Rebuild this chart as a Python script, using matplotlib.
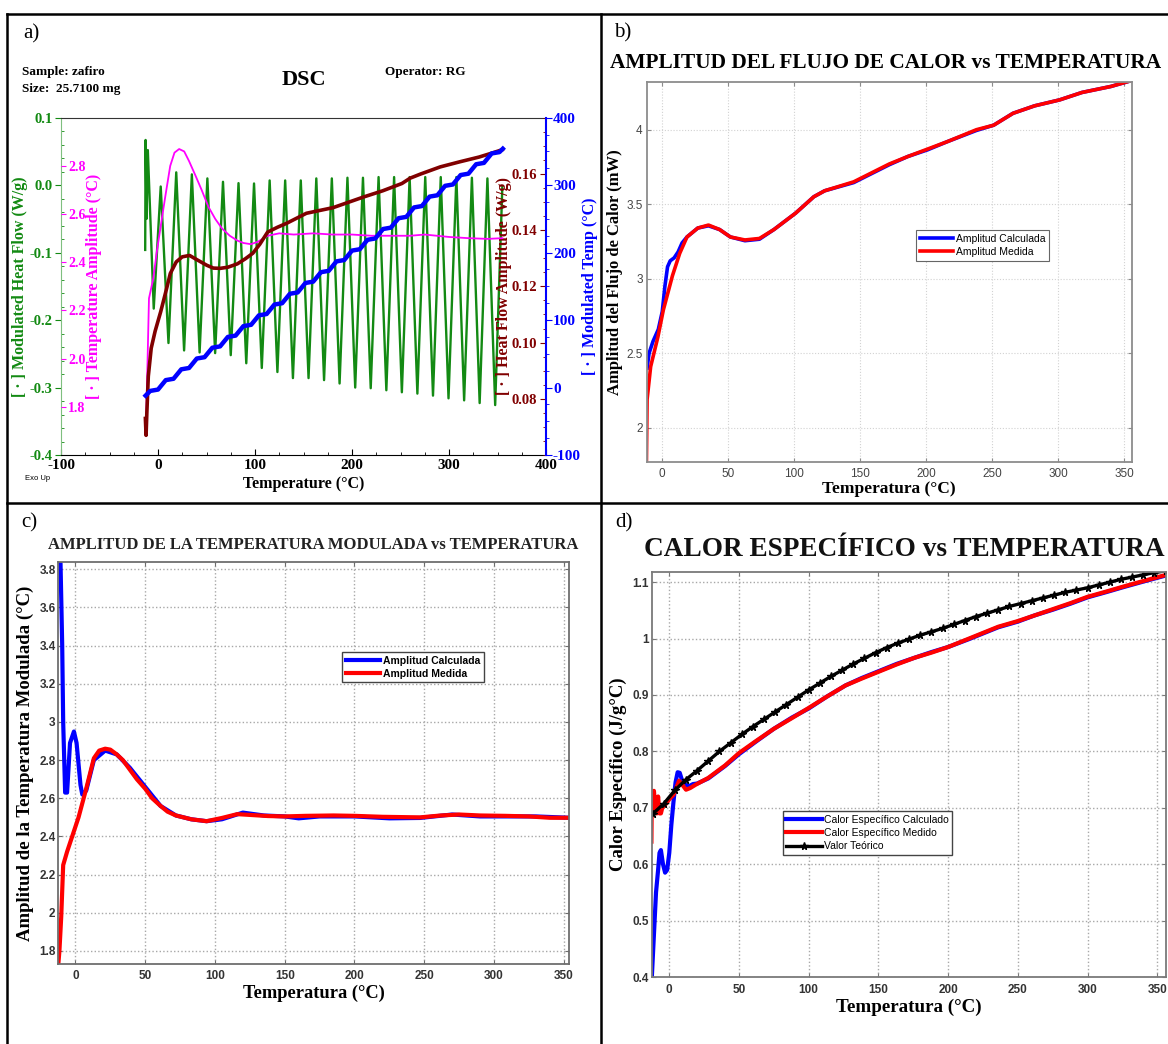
import matplotlib
matplotlib.use("Agg")
import matplotlib.pyplot as plt
from matplotlib.lines import Line2D
from matplotlib.ticker import MultipleLocator, FuncFormatter

plt.rcParams['axes.unicode_minus'] = False
SERIF = 'Liberation Serif'
SANS = 'Liberation Sans'

# ---------------- Panel a data ----------------
green_x = [-13.2, -12.8, -11.8, -10.5, -4.4, 2.8, 10.8, 18.8, 26.9, 34.9, 42.9, 50.9, 58.9, 67.0, 75.0,
           83.0, 91.0, 99.0, 107.0, 115.1, 123.1, 131.1, 139.1, 147.2, 155.2, 163.2, 171.2, 179.2,
           187.2, 195.3, 203.3, 211.3, 219.3, 227.4, 235.4, 243.4, 251.4, 259.4, 267.4, 275.5,
           283.5, 291.5, 299.5, 307.6, 315.6, 323.6, 331.6, 339.6, 347.6, 355.0]
green_y = [-0.096, 0.067, -0.05, 0.052, -0.183, -0.002, -0.234, 0.019, -0.245, 0.016, -0.248, 0.010,
           -0.249, 0.005, -0.252, 0.003, -0.264, 0.0025, -0.271, 0.007, -0.277, 0.007, -0.286, 0.007,
           -0.286, 0.010, -0.289, 0.010, -0.294, 0.011, -0.300, 0.011, -0.301, 0.012, -0.304, 0.012,
           -0.307, 0.012, -0.309, 0.012, -0.312, 0.012, -0.316, 0.012, -0.319, 0.011, -0.323, 0.010,
           -0.326, -0.002]

mag_x = [-12.5, -11.0, -9.3, -5.0, -1.0, 2.8, 7.0, 12.6, 17.0, 21.8, 27.0, 32.0, 38.6, 45.0, 52.0,
         59.0, 66.0, 74.0, 81.8, 88.0, 95.7, 103.0, 113.0, 125.0, 140.0, 160.0, 180.0, 200.0, 220.0,
         240.0, 260.0, 275.0, 300.0, 320.0, 340.0, 355.0]
mag_y = [1.70, 1.95, 2.25, 2.33, 2.45, 2.55, 2.66, 2.80, 2.855, 2.87, 2.86, 2.82, 2.76, 2.70, 2.63,
         2.58, 2.54, 2.51, 2.49, 2.48, 2.475, 2.485, 2.51, 2.52, 2.515, 2.52, 2.515, 2.515, 2.51,
         2.51, 2.51, 2.515, 2.505, 2.50, 2.497, 2.50]

brown_x = [-13.0, -12.3, -11.5, -10.0, -7.0, -3.0, 2.8, 8.0, 12.7, 18.8, 25.0, 32.5, 40.0, 50.3, 57.0,
           64.0, 72.0, 81.8, 90.0, 97.8, 105.0, 113.0, 123.0, 133.0, 153.0, 180.5, 212.0, 231.7,
           251.5, 260.0, 271.0, 291.0, 311.0, 331.0, 345.0, 354.8]
brown_y = [0.073, 0.067, 0.075, 0.088, 0.098, 0.104, 0.111, 0.118, 0.1246, 0.1287, 0.1305, 0.131,
           0.1295, 0.1275, 0.1265, 0.1264, 0.1268, 0.128, 0.1298, 0.1318, 0.135, 0.1393, 0.141,
           0.1425, 0.146, 0.148, 0.1518, 0.154, 0.1566, 0.1585, 0.160, 0.1625, 0.1643, 0.166,
           0.1675, 0.1686]

blue_x = [-12.8, -8, 0, 8, 16, 24, 32, 40, 48, 56, 64, 72, 80, 88, 96, 104, 112, 120, 128, 136, 144,
          152, 160, 168, 176, 184, 192, 200, 208, 216, 224, 232, 240, 248, 256, 264, 272, 280, 288,
          296, 304, 312, 320, 328, 336, 344, 352, 355.5]
blue_y = [-12, -5, -3, 11, 13, 27, 29, 43, 45, 59, 61, 75, 77, 91, 93, 107, 109, 123, 125, 139, 141,
          155, 157, 171, 173, 187, 189, 203, 205, 219, 221, 235, 237, 251, 253, 267, 269, 283, 285,
          299, 301, 315, 317, 331, 333, 347, 349, 354]

# ---------------- Panel b data ----------------
b_calc_x = [-11.5, -10, -7, -3, 0, 2, 4, 6, 9, 12, 15, 18.7, 26.9, 35, 43.4, 51.6, 62.6, 73.6, 84.6,
            101, 114.8, 123, 145, 172, 186, 201, 216, 238, 251, 265.7, 282, 301, 318, 339.8, 355.6]
b_calc_y = [2.40, 2.50, 2.58, 2.66, 2.78, 2.95, 3.08, 3.12, 3.14, 3.18, 3.24, 3.28, 3.34, 3.355,
            3.33, 3.28, 3.255, 3.265, 3.33, 3.44, 3.55, 3.59, 3.645, 3.765, 3.82, 3.865, 3.92, 3.995,
            4.03, 4.11, 4.16, 4.2, 4.25, 4.29, 4.33]
b_med_x = [-12, -11.5, -8.8, -3.3, 0.8, 7.7, 13.2, 18.7, 26.9, 35, 43.4, 51.6, 62.6, 73.6, 84.6, 101,
           114.8, 123, 145, 172, 186, 201, 216, 238, 251, 265.7, 282, 301, 318, 339.8, 355.6]
b_med_y = [1.77, 2.19, 2.41, 2.61, 2.79, 3.02, 3.17, 3.28, 3.34, 3.36, 3.33, 3.28, 3.26, 3.27, 3.33,
           3.44, 3.55, 3.59, 3.65, 3.77, 3.82, 3.87, 3.92, 4.0, 4.03, 4.11, 4.16, 4.2, 4.25, 4.29, 4.33]

# ---------------- Panel c data ----------------
c_calc_x = [-12, -10.7, -9.5, -8.8, -7.4, -6.0, -3.9, -1.1, 0.8, 3.6, 4.9, 7.7, 13.2, 21.3, 29.6, 39,
            50, 61, 72, 83, 94, 105, 120, 135, 150, 160, 175, 200, 225, 247, 270, 290, 310, 330, 354]
c_calc_y = [3.9, 3.83, 3.4, 3.0, 2.63, 2.63, 2.89, 2.95, 2.89, 2.67, 2.62, 2.64, 2.80, 2.85, 2.83,
            2.76, 2.66, 2.56, 2.51, 2.49, 2.48, 2.49, 2.525, 2.51, 2.505, 2.495, 2.505, 2.505, 2.495,
            2.497, 2.515, 2.505, 2.505, 2.505, 2.498]
c_med_x = [-12.3, -11.5, -10.2, -8.8, -6, -1.9, 2.2, 7.7, 13.2, 17, 21.3, 25, 29.6, 34, 39, 44, 50, 55,
           61, 66, 72, 83, 94, 105, 116, 127, 138, 150, 165, 185, 200, 220, 247, 262, 275, 290, 308,
           325, 340, 354]
c_med_y = [1.73, 1.80, 1.98, 2.25, 2.32, 2.41, 2.50, 2.65, 2.81, 2.85, 2.86, 2.855, 2.83, 2.80, 2.75,
           2.70, 2.65, 2.60, 2.56, 2.53, 2.51, 2.49, 2.48, 2.497, 2.517, 2.512, 2.507, 2.505, 2.508,
           2.51, 2.508, 2.503, 2.50, 2.51, 2.515, 2.51, 2.508, 2.505, 2.498, 2.498]

# ---------------- Panel d data ----------------
d_calc_x = [-12.5, -11.5, -10.5, -9.5, -8, -7, -6, -4.5, -3, -1.5, 0, 1.5, 3, 4.5, 6, 7.5, 9, 11, 14,
            17, 20, 28, 40, 50, 62, 75, 88, 100, 113, 126.5, 138, 150, 163, 176, 188, 200, 215, 236,
            250, 262, 275, 288, 300, 313, 325.5, 340, 355]
d_calc_y = [0.40, 0.45, 0.50, 0.55, 0.59, 0.62, 0.625, 0.60, 0.585, 0.59, 0.62, 0.67, 0.71, 0.745,
            0.763, 0.762, 0.75, 0.742, 0.738, 0.742, 0.743, 0.752, 0.774, 0.795, 0.817, 0.84, 0.86,
            0.876, 0.897, 0.917, 0.93, 0.942, 0.955, 0.966, 0.976, 0.985, 0.999, 1.02, 1.03, 1.041,
            1.051, 1.062, 1.073, 1.082, 1.091, 1.101, 1.111]
d_med_x = [-12.8, -12.5, -12, -11, -10, -9, -8, -7, -6, -5, -3, 0, 3, 5, 7, 9, 12, 15, 19, 28, 40, 50,
           62, 75, 88, 100, 113, 126.5, 138, 150, 163, 176, 188, 200, 215, 236, 250, 262, 275, 288,
           300, 313, 325.5, 340, 355]
d_med_y = [0.64, 0.73, 0.72, 0.73, 0.70, 0.69, 0.72, 0.69, 0.69, 0.70, 0.705, 0.715, 0.723, 0.735,
           0.748, 0.742, 0.732, 0.735, 0.741, 0.753, 0.775, 0.797, 0.818, 0.84, 0.859, 0.877, 0.897,
           0.917, 0.929, 0.941, 0.954, 0.966, 0.975, 0.985, 1.0, 1.021, 1.031, 1.041, 1.052, 1.063,
           1.074, 1.083, 1.092, 1.102, 1.112]
d_teo_x = [-12, -4, 4, 12, 20, 28, 36, 44, 52, 60, 68, 76, 84, 92, 100, 108, 116, 124, 132, 140, 148,
           156, 164, 172, 180, 188, 196, 204, 212, 220, 228, 236, 244, 252, 260, 268, 276, 284, 292,
           300, 308, 316, 324, 332, 340, 348, 356]
d_teo_y = [0.689, 0.707, 0.731, 0.750, 0.766, 0.783, 0.800, 0.815, 0.830, 0.844, 0.857, 0.870, 0.883,
           0.896, 0.909, 0.921, 0.933, 0.944, 0.955, 0.965, 0.975, 0.984, 0.992, 0.999, 1.006, 1.012,
           1.018, 1.025, 1.032, 1.039, 1.045, 1.051, 1.057, 1.062, 1.067, 1.072, 1.077, 1.082, 1.086,
           1.090, 1.095, 1.100, 1.105, 1.109, 1.113, 1.117, 1.120]

W, H = 1168, 1044
fig = plt.figure(figsize=(W / 100, H / 100), dpi=100)


def fx(px):
    return px / W


def fy(py):
    return 1 - py / H


def rect(l, t, r, b):
    return [fx(l), fy(b), fx(r) - fx(l), fy(t) - fy(b)]


# frame lines
for xs, ys in [([7, 1168], [14, 14]), ([7, 7], [14, 1044]), ([601, 601], [14, 1044]),
               ([7, 1168], [502.5, 502.5])]:
    fig.add_artist(Line2D([fx(v) for v in xs], [fy(v) for v in ys], transform=fig.transFigure,
                          color='black', lw=1.8))

# panel letters
for lab, px, py in [('a)', 23, 34), ('b)', 614, 33), ('c)', 21, 523), ('d)', 615, 523)]:
    fig.text(fx(px), fy(py), lab, family=SERIF, fontsize=15, ha='left', va='center')

# ================= Panel a =================
GREEN = '#138a13'
MAG = '#ff00ff'
BROWN = '#800000'
BLUE = '#0000ff'

ax = fig.add_axes(rect(61, 117.7, 546, 455))
ax.set_xlim(-100, 400)
ax.set_ylim(-0.4, 0.1)
ax.plot(green_x, green_y, color=GREEN, lw=1.7, zorder=2)
ax.spines['right'].set_visible(False)
ax.spines['left'].set_color('#7fbf7f')
ax.spines['top'].set_color('#333333')
ax.spines['bottom'].set_color('black')
ax.set_xticks([-100, 0, 100, 200, 300, 400])
ax.set_yticks([-0.4, -0.3, -0.2, -0.1, 0.0, 0.1])
ax.yaxis.set_major_formatter(FuncFormatter(lambda v, p: '%.1f' % v))
ax.xaxis.set_minor_locator(MultipleLocator(25))
ax.yaxis.set_minor_locator(MultipleLocator(0.02))
ax.tick_params(axis='x', direction='in', length=4, labelsize=11, pad=3)
ax.tick_params(axis='x', which='minor', direction='in', length=2.5)
ax.tick_params(axis='y', direction='out', length=4, colors=GREEN, labelsize=10.5, pad=2)
ax.tick_params(axis='y', which='minor', direction='in', length=2.5, colors=GREEN)
for t in ax.get_xticklabels() + ax.get_yticklabels():
    t.set_family(SERIF)
    t.set_fontweight('bold')

ax_m = ax.twinx()
ax_m.set_ylim(1.6, 3.0)
for s in ax_m.spines.values():
    s.set_visible(False)
ax_m.spines['right'].set_position(('axes', 0.0))
ax_m.plot(mag_x, mag_y, color=MAG, lw=1.3)
ax_m.set_yticks([1.8, 2.0, 2.2, 2.4, 2.6, 2.8])
ax_m.yaxis.set_major_formatter(FuncFormatter(lambda v, p: '%.1f' % v))
ax_m.tick_params(axis='y', direction='out', length=3.5, colors=MAG, labelsize=10, pad=1.5)
for t in ax_m.get_yticklabels():
    t.set_family(SERIF)
    t.set_fontweight('bold')

ax_b = ax.twinx()
ax_b.set_ylim(0.06, 0.18)
for s in ax_b.spines.values():
    s.set_visible(False)
ax_b.yaxis.tick_left()
ax_b.spines['left'].set_position(('axes', 1.0))
ax_b.plot(brown_x, brown_y, color=BROWN, lw=2.6)
ax_b.set_yticks([0.08, 0.10, 0.12, 0.14, 0.16])
ax_b.yaxis.set_major_formatter(FuncFormatter(lambda v, p: '%.2f' % v))
ax_b.yaxis.set_minor_locator(MultipleLocator(0.005))
ax_b.tick_params(axis='y', direction='out', length=4, colors=BROWN, labelsize=10.5, pad=2.5)
ax_b.tick_params(axis='y', which='minor', direction='out', length=2.5, colors=BROWN)
for t in ax_b.get_yticklabels():
    t.set_family(SERIF)
    t.set_fontweight('bold')

ax_t = ax.twinx()
ax_t.set_ylim(-100, 400)
for k, s in ax_t.spines.items():
    s.set_visible(k == 'right')
ax_t.spines['right'].set_color(BLUE)
ax_t.spines['right'].set_linewidth(1.5)
ax_t.plot(blue_x, blue_y, color=BLUE, lw=3.2, solid_joinstyle='round')
ax_t.set_yticks([-100, 0, 100, 200, 300, 400])
ax_t.yaxis.set_minor_locator(MultipleLocator(25))
ax_t.tick_params(axis='y', direction='out', length=4, colors=BLUE, labelsize=11, pad=1)
ax_t.tick_params(axis='y', which='minor', direction='out', length=2.5, colors=BLUE)
for t in ax_t.get_yticklabels():
    t.set_family(SERIF)
    t.set_fontweight('bold')

lab_kw = dict(family=SERIF, fontweight='bold', fontsize=11.5, rotation=90, ha='center', va='center',
              transform=ax.transAxes)
ax.text(-0.084, 0.5, '[ · ] Modulated Heat Flow (W/g)', color=GREEN, **lab_kw)
ax.text(0.068, 0.5, '[ · ] Temperature Amplitude (°C)', color=MAG, zorder=10, **lab_kw)
ax.text(0.914, 0.5, '[ · ] Heat Flow Amplitude (W/g)', color=BROWN, zorder=10, **lab_kw)
ax.text(1.09, 0.5, '[ · ] Modulated Temp (°C)', color=BLUE, **lab_kw)
ax.text(0.5, -0.085, 'Temperature (°C)', family=SERIF, fontweight='bold', fontsize=11.5,
        ha='center', va='center', transform=ax.transAxes)

fig.text(fx(22), fy(72), 'Sample: zafiro', family=SERIF, fontweight='bold', fontsize=9.5,
         ha='left', va='center')
fig.text(fx(22), fy(89), 'Size:  25.7100 mg', family=SERIF, fontweight='bold', fontsize=9.5,
         ha='left', va='center')
fig.text(fx(304), fy(80), 'DSC', family=SERIF, fontweight='bold', fontsize=16, ha='center', va='center')
fig.text(fx(385), fy(72), 'Operator: RG', family=SERIF, fontweight='bold', fontsize=9.5,
         ha='left', va='center')
fig.text(fx(25), fy(479), 'Exo Up', family=SANS, fontsize=5.5, ha='left', va='center')


# ================= MATLAB-style panels =================
def gfmt(v, p):
    return '%g' % round(v, 3)


def style_matlab(a, spine_col, grid_col, grid_lw, tick_col, tick_size, tick_bold, xpad, ypad):
    for s in a.spines.values():
        s.set_color(spine_col)
        s.set_linewidth(1.3)
    a.grid(True, color=grid_col, ls=(0, (1, 1.6)), lw=grid_lw)
    a.set_axisbelow(True)
    a.tick_params(direction='in', top=True, right=True, length=3, colors=spine_col,
                  labelcolor=tick_col, labelsize=tick_size)
    a.tick_params(axis='x', pad=xpad)
    a.tick_params(axis='y', pad=ypad)
    a.xaxis.set_major_formatter(FuncFormatter(gfmt))
    a.yaxis.set_major_formatter(FuncFormatter(gfmt))
    for t in a.get_xticklabels() + a.get_yticklabels():
        t.set_family(SANS)
        if tick_bold:
            t.set_fontweight('bold')


RED = '#ff0000'
MBLUE = '#0000ff'

# ---- Panel b ----
axb = fig.add_axes(rect(646.7, 82, 1131.7, 462))
axb.plot(b_calc_x, b_calc_y, color=MBLUE, lw=2.6, label='Amplitud Calculada')
axb.plot(b_med_x, b_med_y, color=RED, lw=2.6, label='Amplitud Medida')
axb.set_xlim(-11.8, 355.6)
axb.set_ylim(1.77, 4.32)
axb.set_xticks([0, 50, 100, 150, 200, 250, 300, 350])
axb.set_yticks([2, 2.5, 3, 3.5, 4])
style_matlab(axb, '#8c8c8c', '#d2d2d2', 0.8, '#444444', 8.5, False, 4, 3)
leg = axb.legend(loc='upper left', bbox_to_anchor=(0.555, 0.61), fancybox=False, framealpha=1,
                 edgecolor='#666666', prop={'family': SANS, 'size': 7.5}, handlelength=3.2,
                 handletextpad=0.3, borderpad=0.35, labelspacing=0.3, borderaxespad=0)
leg.get_frame().set_linewidth(0.8)
fig.text(fx(610), fy(62.5), 'AMPLITUD DEL FLUJO DE CALOR vs TEMPERATURA', family=SERIF,
         fontweight='bold', fontsize=15.4, ha='left', va='center')
axb.text(-0.066, 0.5, 'Amplitud del Flujo de Calor (mW)', family=SERIF, fontweight='bold',
         fontsize=12, rotation=90, ha='center', va='center', transform=axb.transAxes)
axb.text(0.5, -0.071, 'Temperatura (°C)', family=SERIF, fontweight='bold', fontsize=12.5,
         ha='center', va='center', transform=axb.transAxes)

# ---- Panel c ----
axc = fig.add_axes(rect(58.3, 561.7, 569.3, 964.3))
axc.plot(c_calc_x, c_calc_y, color=MBLUE, lw=3.0, label='Amplitud Calculada')
axc.plot(c_med_x, c_med_y, color=RED, lw=3.0, label='Amplitud Medida')
axc.set_xlim(-12.3, 354)
axc.set_ylim(1.73, 3.84)
axc.set_xticks([0, 50, 100, 150, 200, 250, 300, 350])
axc.set_yticks([1.8, 2.0, 2.2, 2.4, 2.6, 2.8, 3.0, 3.2, 3.4, 3.6, 3.8])
style_matlab(axc, '#6e6e6e', '#a8a8a8', 1.0, '#333333', 8.5, True, 4, 2)
leg = axc.legend(loc='upper left', bbox_to_anchor=(0.555, 0.776), fancybox=False, framealpha=1,
                 edgecolor='#444444', prop={'family': SANS, 'size': 7.5, 'weight': 'bold'},
                 handlelength=3.3, handletextpad=0.3, borderpad=0.35, labelspacing=0.3,
                 borderaxespad=0)
leg.get_frame().set_linewidth(1.0)
fig.text(fx(47.5), fy(545), 'AMPLITUD DE LA TEMPERATURA MODULADA vs TEMPERATURA', family=SERIF,
         fontweight='bold', fontsize=12, ha='left', va='center', color='#222222')
axc.text(-0.065, 0.5, 'Amplitud de la Temperatura Modulada (°C)', family=SERIF, fontweight='bold',
         fontsize=13.5, rotation=90, ha='center', va='center', transform=axc.transAxes)
axc.text(0.5, -0.071, 'Temperatura (°C)', family=SERIF, fontweight='bold', fontsize=13.3,
         ha='center', va='center', transform=axc.transAxes)

# ---- Panel d ----
axd = fig.add_axes(rect(651.7, 572, 1166, 977))
axd.plot(d_calc_x, d_calc_y, color=MBLUE, lw=3.0, label='Calor Específico Calculado')
axd.plot(d_med_x, d_med_y, color=RED, lw=3.0, label='Calor Específico Medido')
axd.plot(d_teo_x, d_teo_y, color='black', lw=2.4, marker='*', ms=5.5, label='Valor Teórico')
axd.set_xlim(-12.6, 356.3)
axd.set_ylim(0.4, 1.118)
axd.set_xticks([0, 50, 100, 150, 200, 250, 300, 350])
axd.set_yticks([0.4, 0.5, 0.6, 0.7, 0.8, 0.9, 1.0, 1.1])
style_matlab(axd, '#7a7a7a', '#a8a8a8', 1.0, '#333333', 8.5, True, 5, 2)
leg = axd.legend(loc='upper left', bbox_to_anchor=(0.255, 0.409), fancybox=False, framealpha=1,
                 edgecolor='#444444', prop={'family': SANS, 'size': 7.5}, handlelength=3.4,
                 handletextpad=0.2, borderpad=0.35, labelspacing=0.3, borderaxespad=0)
leg.get_frame().set_linewidth(1.0)
fig.text(fx(643.5), fy(549), 'CALOR ESPECÍFICO vs TEMPERATURA', family=SERIF,
         fontweight='bold', fontsize=19.6, ha='left', va='center', color='#111111')
axd.text(-0.0655, 0.5, 'Calor Específico (J/g°C)', family=SERIF, fontweight='bold',
         fontsize=13.5, rotation=90, ha='center', va='center', transform=axd.transAxes)
axd.text(0.5, -0.074, 'Temperatura (°C)', family=SERIF, fontweight='bold', fontsize=13.7,
         ha='center', va='center', transform=axd.transAxes)

fig.savefig('out.png', dpi=100)
